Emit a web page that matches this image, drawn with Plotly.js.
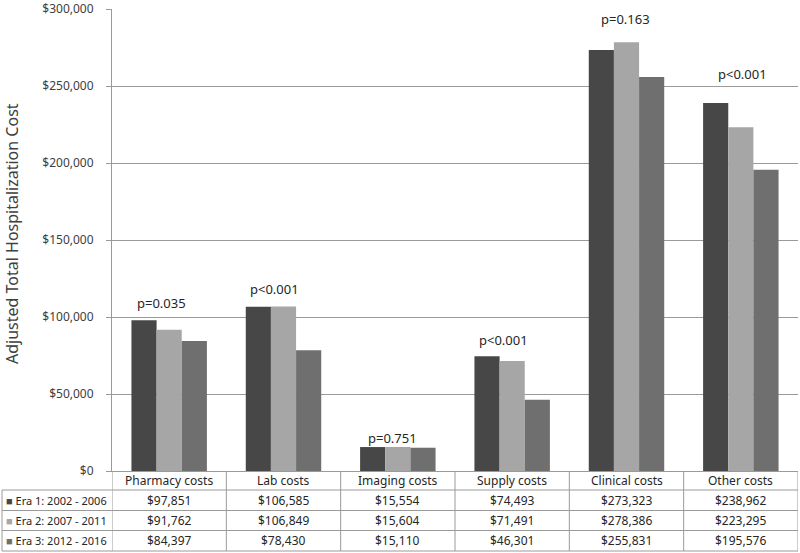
<!DOCTYPE html>
<html>
<head>
<meta charset="utf-8">
<script src="https://cdn.plot.ly/plotly-3.0.1.min.js"></script>
<style>html,body{margin:0;padding:0;background:#fff;}#chart{width:800px;height:553px;}</style>
</head>
<body>
<div id="chart"></div>
<script>
// ---- data ----
const categories = ["Pharmacy costs", "Lab costs", "Imaging costs", "Supply costs", "Clinical costs", "Other costs"];
const seriesNames = ["Era 1: 2002 - 2006", "Era 2: 2007 - 2011", "Era 3: 2012 - 2016"];
const era1 = [97851, 106585, 15554, 74493, 273323, 238962];
const era2 = [91762, 106849, 15604, 71491, 278386, 223295];
const era3 = [84397, 78430, 15110, 46301, 255831, 195576];
const pValues = ["p=0.035", "p<0.001", "p=0.751", "p<0.001", "p=0.163", "p<0.001"];
const yTickVals = [0, 50000, 100000, 150000, 200000, 250000, 300000];
const yTickText = ["$0", "$50,000", "$100,000", "$150,000", "$200,000", "$250,000", "$300,000"];

// ---- styling ----
const colors = ["#474747", "#a6a6a6", "#6f6f6f"];
const pLift = [6, 6, -2, 5, 12, 18];
const pShiftX = [-8, -9, -5, -9, -1, 2];
const FONT = "Noto Sans, sans-serif";
const lineCol = "#9a9a9a";
const textCol = "#262626";

const W = 800, H = 553;
const M = {l: 112, r: 2, t: 9, b: 82};
const plotW = W - M.l - M.r, plotH = H - M.t - M.b;
const py = p => (H - M.b - p) / plotH;          // pixel y -> paper y
const px = p => (p - M.l) / plotW;              // pixel x -> paper x

const allSeries = [era1, era2, era3];
const idx = categories.map((c, i) => i);

const traces = allSeries.map((vals, s) => ({
  type: "bar",
  name: seriesNames[s],
  x: idx,
  y: vals,
  marker: {color: colors[s], line: {width: 0}},
  hoverinfo: "skip"
}));

const rowTops = [471, 490, 510.5, 530.5, 551];
const shapes = [];
for (let r = 1; r < rowTops.length; r++) {
  shapes.push({type: "line", xref: "paper", yref: "paper",
    x0: px(2), x1: 1, y0: py(rowTops[r]), y1: py(rowTops[r]),
    line: {color: lineCol, width: 1}});
}
shapes.push({type: "line", xref: "paper", yref: "paper",
  x0: px(2), x1: px(2), y0: py(rowTops[1]), y1: py(rowTops[4]),
  line: {color: lineCol, width: 1}});
for (let i = 0; i <= categories.length; i++) {
  shapes.push({type: "line", xref: "x", yref: "paper",
    x0: i - 0.5, x1: i - 0.5, y0: 0, y1: py(rowTops[4]),
    line: {color: lineCol, width: 1}});
}

const annotations = [];
categories.forEach((c, i) => {
  annotations.push({xref: "x", yref: "y", x: i,
    y: Math.max(era1[i], era2[i], era3[i]),
    text: pValues[i], showarrow: false, yanchor: "bottom",
    yshift: pLift[i], xshift: pShiftX[i],
    font: {family: FONT, size: 13, color: textCol}});
});
categories.forEach((c, i) => {
  annotations.push({xref: "x", yref: "paper", x: i,
    y: py((rowTops[0] + rowTops[1]) / 2),
    text: c, showarrow: false, yanchor: "middle",
    font: {family: FONT, size: 12, color: textCol}});
});
allSeries.forEach((vals, s) => {
  const yMid = py((rowTops[s + 1] + rowTops[s + 2]) / 2);
  annotations.push({xref: "paper", yref: "paper", x: px(4), y: yMid,
    xanchor: "left", yanchor: "middle", showarrow: false,
    text: '<span style="color:' + colors[s] + '">■</span> ' + seriesNames[s],
    font: {family: FONT, size: 11, color: textCol}});
  vals.forEach((v, i) => {
    annotations.push({xref: "x", yref: "paper", x: i, y: yMid,
      yanchor: "middle", showarrow: false,
      text: "$" + v.toLocaleString("en-US"),
      font: {family: FONT, size: 12, color: textCol}});
  });
});
annotations.push({xref: "paper", yref: "paper", x: 0, y: py(234),
  xshift: 12 - M.l, xanchor: "center", yanchor: "middle", textangle: -90,
  showarrow: false, text: "Adjusted Total Hospitalization Cost",
  font: {family: FONT, size: 16, color: "#404040"}});

const layout = {
  width: W, height: H,
  margin: M,
  paper_bgcolor: "#fff", plot_bgcolor: "#fff",
  showlegend: false,
  barmode: "group", bargap: 0.34, bargroupgap: 0,
  font: {family: FONT, color: "#404040"},
  xaxis: {range: [-0.5, categories.length - 0.5], showticklabels: false,
    showgrid: false, zeroline: false, showline: true, linecolor: lineCol,
    linewidth: 1, ticks: "", fixedrange: true},
  yaxis: {range: [0, 300000], tickmode: "array", tickvals: yTickVals, ticktext: yTickText,
    showgrid: true, gridcolor: lineCol, gridwidth: 1,
    zeroline: false, showline: true, linecolor: lineCol, linewidth: 1,
    ticks: "outside", ticklen: 5, tickcolor: lineCol,
    ticklabelstandoff: 10, ticklabeloverflow: "allow",
    tickfont: {family: FONT, size: 12, color: "#404040"}},
  shapes: shapes,
  annotations: annotations
};

Plotly.newPlot("chart", traces, layout, {displayModeBar: false, staticPlot: true});
</script>
</body>
</html>
